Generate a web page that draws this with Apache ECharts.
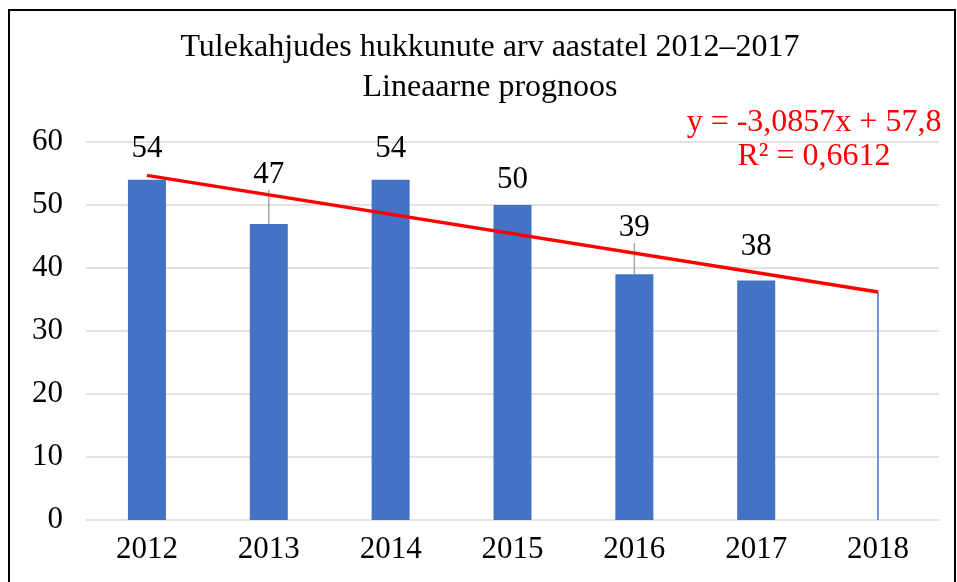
<!DOCTYPE html>
<html>
<head>
<meta charset="utf-8">
<script src="https://cdn.jsdelivr.net/npm/echarts@6/dist/echarts.min.js"></script>
<style>
  html, body { margin: 0; padding: 0; background: #fff; }
  #chartDiv { width: 957px; height: 582px; }
</style>
</head>
<body>
<div id="chartDiv"></div>
<script>
// andmed
var years = ['2012', '2013', '2014', '2015', '2016', '2017', '2018'];
var deaths = [54, 47, 54, 50, 39, 38];
var trendStart = 54.7;   // trendjoon 2012
var trendEnd = 36.2;     // trendjoon 2018
var yTicks = [0, 10, 20, 30, 40, 50, 60];

var serif = '"Liberation Serif", "Times New Roman", serif';

// sildi nihe (px) ja juhtjoon
var labelShift = [-10, -29, -10, -5, -26, -13];
var withLine = [false, true, false, false, true, false];

var myChart = echarts.init(document.getElementById('chartDiv'));

var option = {
    animation: false,
    title: {
        text: 'Tulekahjudes hukkunute arv aastatel 2012\u20132017\nLineaarne prognoos',
        left: 490,
        textAlign: 'center',
        top: 28,
        padding: 0,
        textStyle: {
            fontFamily: serif,
            fontWeight: 'normal',
            fontSize: 32,
            lineHeight: 40,
            color: '#000'
        }
    },
    grid: {
        left: 86,
        right: 18,
        top: 142,
        bottom: 62
    },
    xAxis: {
        type: 'category',
        data: years,
        axisLine: { show: false },
        axisTick: { show: false },
        axisLabel: {
            fontFamily: serif,
            fontSize: 31,
            color: '#000',
            margin: 14
        }
    },
    yAxis: {
        type: 'value',
        min: yTicks[0],
        max: yTicks[yTicks.length - 1],
        interval: 10,
        axisLabel: {
            fontFamily: serif,
            fontSize: 31,
            color: '#000',
            margin: 23
        },
        splitLine: { lineStyle: { color: '#d9d9d9', width: 1.5 } }
    },
    graphic: [
        {
            type: 'rect',
            shape: { x: 9, y: 10, width: 946, height: 620 },
            style: { fill: 'none', stroke: '#000', lineWidth: 2 },
            silent: true
        },
        {
            type: 'text',
            x: 814, y: 123,
            style: {
                text: 'y = -3,0857x + 57,8',
                fill: '#ff0000',
                font: '32px ' + serif,
                textAlign: 'center',
                textVerticalAlign: 'middle'
            }
        },
        {
            type: 'text',
            x: 814, y: 157,
            style: {
                text: 'R\u00b2 = 0,6612',
                fill: '#ff0000',
                font: '32px ' + serif,
                textAlign: 'center',
                textVerticalAlign: 'middle'
            }
        }
    ],
    series: [
        {
            name: 'Hukkunud',
            type: 'bar',
            barWidth: 38,
            itemStyle: { color: '#4472c4' },
            data: deaths.map(function (v, i) {
                return {
                    value: v,
                    labelLine: { show: withLine[i] }
                };
            }),
            label: {
                show: true,
                position: 'top',
                distance: 5,
                fontFamily: serif,
                fontSize: 31,
                color: '#000'
            },
            labelLine: {
                show: true,
                lineStyle: { color: '#a6a6a6', width: 1.5 }
            },
            labelLayout: function (params) {
                return { dy: labelShift[params.dataIndex] };
            }
        },
        {
            name: 'Trend',
            type: 'line',
            symbol: 'none',
            z: 5,
            lineStyle: { color: '#ff0000', width: 3.5 },
            data: [[years[0], trendStart], [years[6], trendEnd]],
            markLine: {
                symbol: 'none',
                silent: true,
                label: { show: false },
                lineStyle: { color: '#4472c4', width: 1.5, type: 'solid' },
                data: [[
                    { coord: [years[6], trendEnd] },
                    { coord: [years[6], 0] }
                ]]
            }
        }
    ]
};

myChart.setOption(option);
window.onresize = myChart.resize;
</script>
</body>
</html>
